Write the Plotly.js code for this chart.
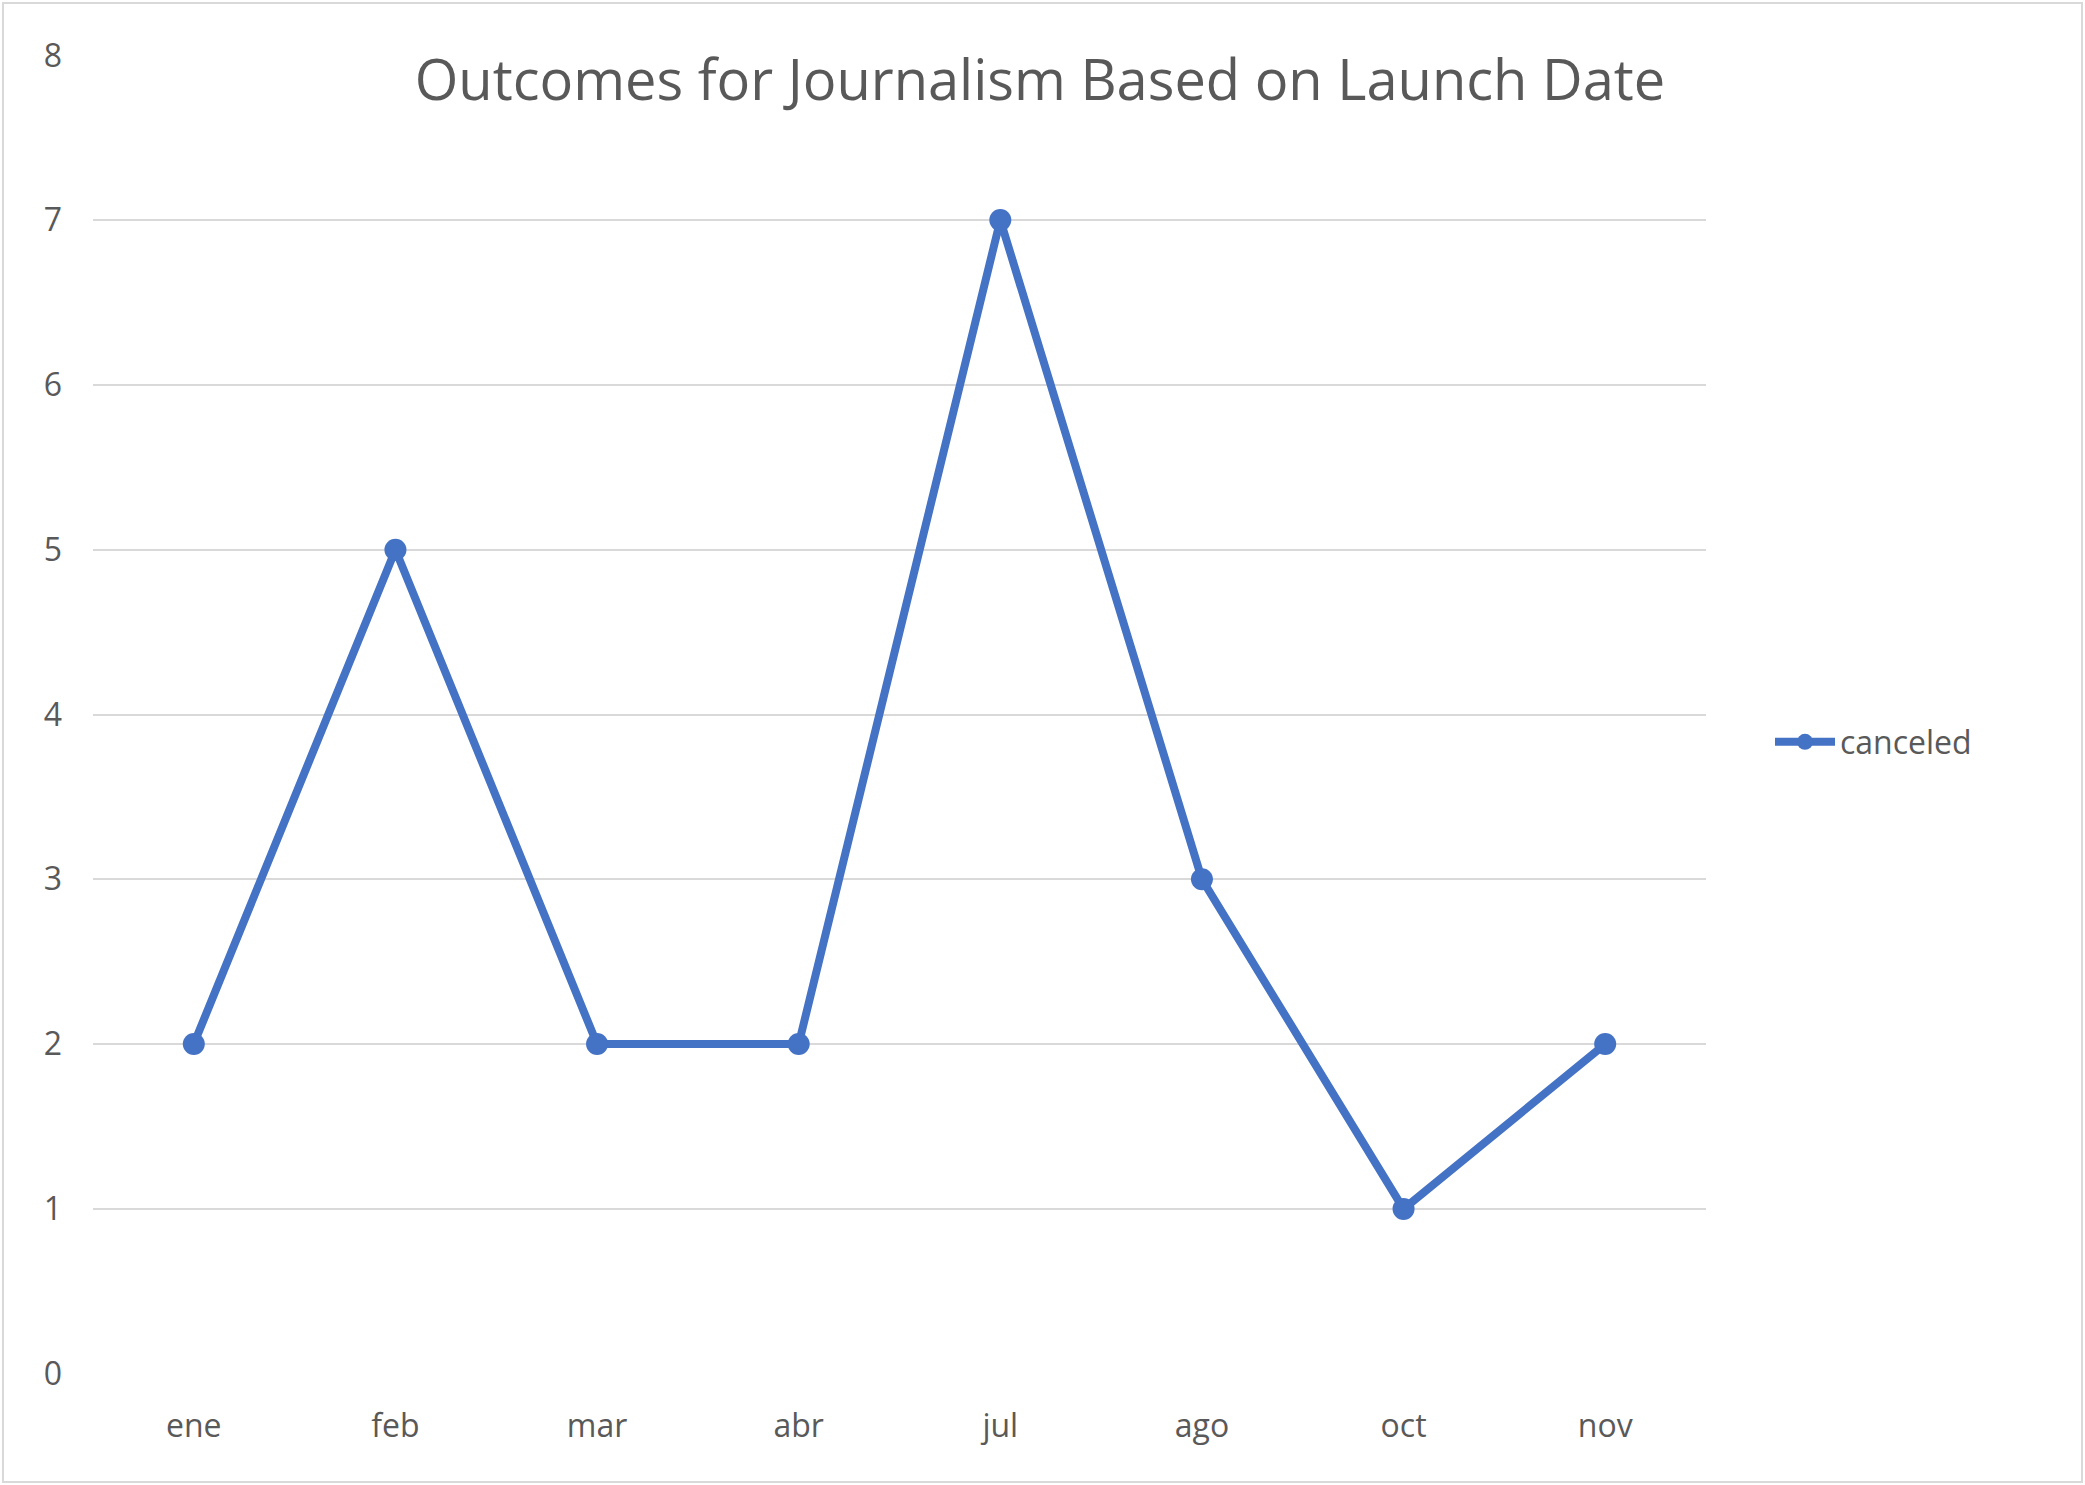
<!DOCTYPE html>
<html>
<head>
<meta charset="utf-8">
<script src="https://cdn.plot.ly/plotly-3.0.1.min.js"></script>
<style>body{margin:0;background:#fff}#chart{width:2085px;height:1485px}</style>
</head>
<body>
<div id="chart"></div>
<script>
var months = ['ene', 'feb', 'mar', 'abr', 'jul', 'ago', 'oct', 'nov'];
var canceled = [2, 5, 2, 2, 7, 3, 1, 2];

var trace = {
  x: months,
  y: canceled,
  name: 'canceled',
  type: 'scatter',
  mode: 'lines+markers',
  line: {color: '#4472C4', width: 8},
  marker: {color: '#4472C4', size: 22}
};

var layout = {
  width: 2085,
  height: 1485,
  margin: {l: 93, r: 379, t: 55, b: 111},
  font: {family: 'Open Sans, Liberation Sans, sans-serif', color: '#595959', size: 32},
  title: {
    text: 'Outcomes for Journalism Based on Launch Date',
    font: {size: 56, color: '#595959'},
    x: 1040 / 2085, xanchor: 'center',
    y: 1 - 80 / 1485, yanchor: 'middle'
  },
  xaxis: {
    type: 'category',
    range: [-0.5, 7.5],
    showgrid: false,
    zeroline: false,
    showline: false,
    ticks: '',
    ticklabelstandoff: 30
  },
  yaxis: {
    range: [-0.002, 8.002],
    dtick: 1,
    gridcolor: '#D9D9D9',
    gridwidth: 2,
    zeroline: false,
    ticks: '',
    ticklabelstandoff: 30
  },
  showlegend: true,
  legend: {
    x: (1770 - 93) / 1613, xanchor: 'left',
    y: 1 - (742 - 55) / 1319, yanchor: 'middle',
    itemwidth: 60,
    font: {size: 32, color: '#595959'}
  },
  shapes: [{
    type: 'rect', xref: 'paper', yref: 'paper',
    x0: -90 / 1613, x1: 1 + 376 / 1613, y0: -108 / 1319, y1: 1 + 52 / 1319,
    line: {color: '#D9D9D9', width: 2}
  }],
  plot_bgcolor: '#fff',
  paper_bgcolor: '#fff'
};

Plotly.newPlot('chart', [trace], layout, {displayModeBar: false});
</script>
</body>
</html>
